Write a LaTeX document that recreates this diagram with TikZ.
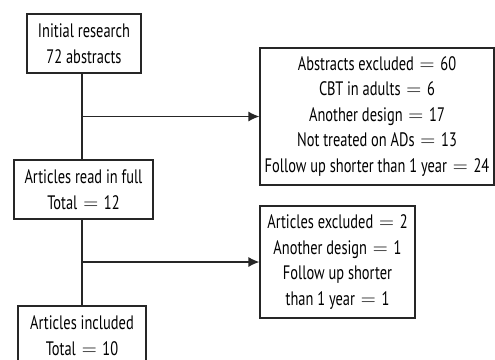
\documentclass[tikz,border=0pt]{standalone}
\usepackage{fontspec}
\setmainfont{PT Sans}[FakeStretch=0.74]
\usetikzlibrary{arrows.meta}
\newcommand{\eqs}{\kern0.1em$=$\kern0.1em}
\begin{document}
\begin{tikzpicture}[x=1pt,y=1pt,
  box/.style={draw=black!85,line width=1.2pt,inner sep=0pt,align=center,
    font=\fontsize{19.5}{25.5}\selectfont},
  conn/.style={draw=black!85,line width=1.2pt},
  arr/.style={conn,-{Latex[length=11pt,width=10pt]}}]
\useasboundingbox (0,0) rectangle (495,-359);
\node[box,minimum width=114,minimum height=59] (b1) at (84,-43.5) {Initial research\\72 abstracts};
\node[box,minimum width=139,minimum height=59] (b2) at (83.5,-189.5) {Articles read in full\\Total \eqs{} 12};
\node[box,minimum width=128,minimum height=59] (b4) at (82,-335.5) {Articles included\\Total \eqs{} 10};
\node[box,minimum width=234,minimum height=137] (b3) at (377,-116.5) {Abstracts excluded \eqs{} 60\\CBT in adults \eqs{} 6\\Another design \eqs{} 17\\Not treated on ADs \eqs{} 13\\Follow up shorter than 1 year \eqs{} 24};
\node[box,minimum width=155,minimum height=112] (b5) at (337.5,-262) {Articles excluded \eqs{} 2\\Another design \eqs{} 1\\Follow up shorter\\than 1 year \eqs{} 1};
\coordinate (j1) at (82,-116.5);
\coordinate (j2) at (82,-262);
\draw[conn] (b1.south -| j1) -- (b2.north -| j1);
\draw[conn] (b2.south -| j1) -- (b4.north -| j1);
\draw[arr] (j1) -- (b3.west);
\draw[arr] (j2) -- (b5.west);
\end{tikzpicture}
\end{document}
